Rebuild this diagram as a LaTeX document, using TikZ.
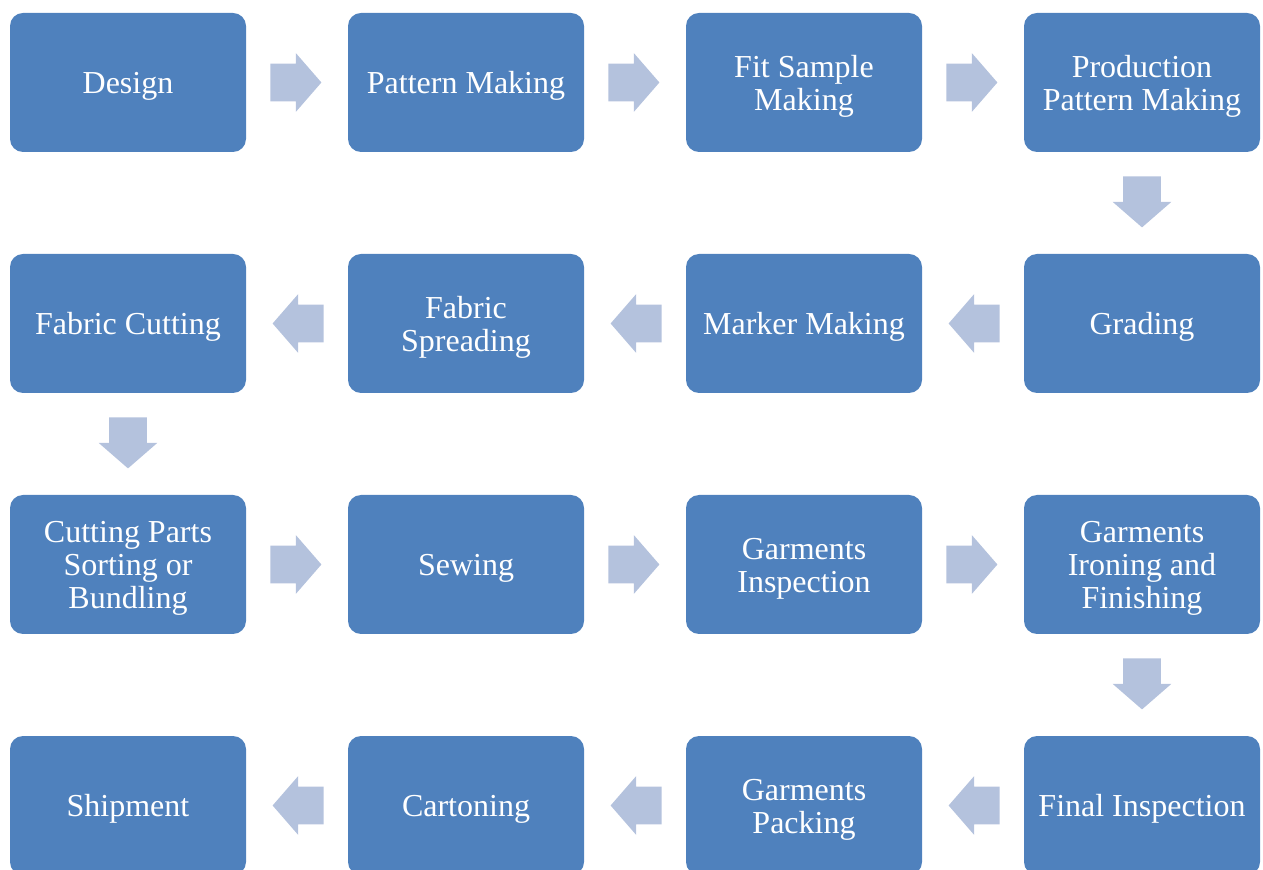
\documentclass[tikz,border=0pt]{standalone}
\usepackage{fontspec}
\setmainfont{Liberation Serif}
\usepackage{xcolor}
\usetikzlibrary{positioning,shapes.arrows,calc}
\definecolor{sblue}{HTML}{4F81BD}
\definecolor{sarrow}{HTML}{B4C2DD}

\begin{document}
\begin{tikzpicture}[node distance=51pt and 51pt,
  stage/.style={fill=sblue, rounded corners=6.5pt, minimum width=118pt, minimum height=69.5pt,
    text=white, align=flush center, text width=112pt, inner xsep=3pt, outer sep=0pt,
    font=\fontsize{16}{16.5}\selectfont,
    execute at begin node={\rule{0pt}{14.8pt}},
    execute at end node={\rule[-3.6pt]{0pt}{0pt}}},
  flow/.style={single arrow, fill=sarrow, minimum height=25.5pt, minimum width=29pt,
    single arrow head extend=5.25pt, single arrow tip angle=98, inner xsep=0pt, inner ysep=9.25pt,
    anchor=tail}]
\useasboundingbox (0,0) rectangle (631.5pt,-435pt);
% first row, left to right
\node[stage, anchor=north west] (design) at (5pt,-6.5pt) {Design};
\node[stage, right=of design] (pattern) {Pattern Making};
\node[stage, right=of pattern] (fit) {Fit Sample\\Making};
\node[stage, right=of fit] (prodpat) {Production\\Pattern Making};
% second row, right to left
\node[stage, below=of prodpat] (grading) {Grading};
\node[stage, left=of grading] (marker) {Marker Making};
\node[stage, left=of marker] (spread) {Fabric\\Spreading};
\node[stage, left=of spread] (cut) {Fabric Cutting};
% third row
\node[stage, below=of cut] (bundle) {Cutting Parts\\Sorting or\\Bundling};
\node[stage, right=of bundle] (sewing) {Sewing};
\node[stage, right=of sewing] (ginsp) {Garments\\Inspection};
\node[stage, right=of ginsp] (finish) {Garments\\Ironing and\\Finishing};
% last row
\node[stage, below=of finish] (final) {Final Inspection};
\node[stage, left=of final] (packing) {Garments\\Packing};
\node[stage, left=of packing] (carton) {Cartoning};
\node[stage, left=of carton] (ship) {Shipment};
% block arrows, tail 12pt off the stage they leave
\node[flow] (f1) at ($(design.east)+(12pt,0)$) {};
\node[flow] (f2) at ($(pattern.east)+(12pt,0)$) {};
\node[flow] (f3) at ($(fit.east)+(12pt,0)$) {};
\node[flow, rotate=270] (f4) at ($(prodpat.south)+(0,-12pt)$) {};
\node[flow, rotate=180] (f5) at ($(grading.west)+(-12pt,0)$) {};
\node[flow, rotate=180] (f6) at ($(marker.west)+(-12pt,0)$) {};
\node[flow, rotate=180] (f7) at ($(spread.west)+(-12pt,0)$) {};
\node[flow, rotate=270] (f8) at ($(cut.south)+(0,-12pt)$) {};
\node[flow] (f9) at ($(bundle.east)+(12pt,0)$) {};
\node[flow] (f10) at ($(sewing.east)+(12pt,0)$) {};
\node[flow] (f11) at ($(ginsp.east)+(12pt,0)$) {};
\node[flow, rotate=270] (f12) at ($(finish.south)+(0,-12pt)$) {};
\node[flow, rotate=180] (f13) at ($(final.west)+(-12pt,0)$) {};
\node[flow, rotate=180] (f14) at ($(packing.west)+(-12pt,0)$) {};
\node[flow, rotate=180] (f15) at ($(carton.west)+(-12pt,0)$) {};
\end{tikzpicture}
\end{document}
